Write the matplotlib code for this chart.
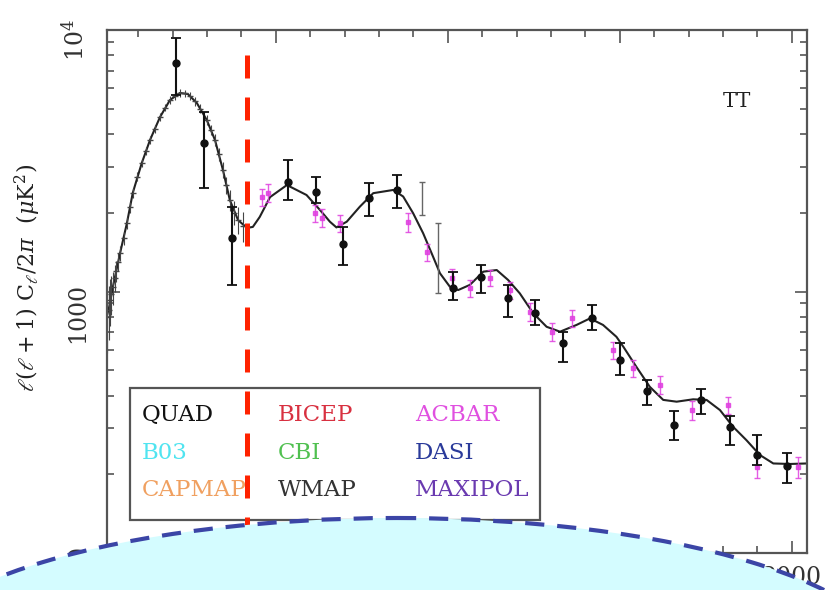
import matplotlib
matplotlib.use("Agg")
import matplotlib.pyplot as plt
from matplotlib.patches import Ellipse, Rectangle
from matplotlib.ticker import MultipleLocator, LogLocator, FixedLocator, FixedFormatter, NullFormatter

plt.rcParams['font.family'] = ['DejaVu Serif']
plt.rcParams['mathtext.fontset'] = 'dejavuserif'

# theory curve (ell, l(l+1)C_l/2pi in uK^2)
theory_ell = [9, 16, 26, 47, 67, 84, 110, 134, 163, 192, 221, 244, 270, 299, 323, 346, 366, 390,
              416, 433, 453, 483, 532, 589, 628, 657, 676, 706, 744, 783, 841, 870, 899, 928, 957,
              977, 1006, 1030, 1064, 1103, 1142, 1175, 1209, 1248, 1287, 1326, 1374, 1413, 1451,
              1490, 1510, 1548, 1587, 1626, 1665, 1713, 1752, 1791, 1829, 1868, 1907, 1946, 1994, 2044]
theory_val = [810, 880, 1040, 1402, 1828, 2385, 3097, 3794, 4642, 5397, 5743, 5690, 5262, 4528,
              3794, 2918, 2240, 1875, 1750, 1766, 1928, 2296, 2553, 2339, 2051, 1849, 1758, 1849,
              2110, 2377, 2445, 2308, 1992, 1671, 1358, 1174, 1042, 1013, 1060, 1191, 1208, 1107,
              984, 826, 733, 702, 745, 789, 745, 671, 615, 515, 432, 385, 379, 387, 385, 352, 304,
              270, 237, 220, 219, 220]

# QUAD band powers (value, upper and lower end of error bar)
quad_ell = [211, 291, 371, 534, 616, 694, 771, 851, 1015, 1095, 1175, 1253, 1335, 1418, 1500,
            1580, 1658, 1737, 1820, 1900, 1985]
quad_val = [7460, 3690, 1596, 2630, 2410, 1514, 2270, 2445, 1029, 1140, 942, 826, 634, 789, 547,
            418, 308, 385, 304, 237, 215]
quad_hi = [9290, 4870, 2110, 3185, 2750, 1770, 2595, 2790, 1190, 1262, 1060, 927, 702, 887, 634,
           459, 350, 423, 334, 282, 241]
quad_lo = [5640, 2480, 1060, 2240, 2180, 1262, 1945, 2085, 927, 984, 802, 745, 538, 713, 480,
           368, 270, 341, 259, 217, 185]

# ACBAR
acbar_ell = [459, 477, 613, 634, 686, 884, 939, 1012, 1064, 1122, 1180, 1238, 1302, 1360, 1480,
             1538, 1616, 1709, 1814, 1898, 2017]
acbar_val = [2296, 2385, 1995, 1910, 1828, 1845, 1416, 1128, 1030, 1128, 1013, 836, 700, 792, 597,
             509, 439, 352, 368, 213, 213]
acbar_err = [180, 190, 150, 150, 140, 150, 110, 90, 80, 80, 75, 65, 55, 60, 45, 40, 35, 30, 28, 20, 20]

# WMAP
wmap_ell = [10, 14, 18, 22, 26, 31, 35, 41, 47, 57, 67, 76, 84, 97, 110, 122, 134, 148, 163, 178,
            192, 206, 221, 235, 250, 265, 280, 299, 312, 323, 335, 346, 356, 366, 378, 390, 405]
wmap_val = [800, 850, 930, 980, 1040, 1130, 1200, 1300, 1400, 1600, 1830, 2100, 2385, 2750, 3100,
            3450, 3790, 4200, 4640, 5050, 5400, 5600, 5740, 5720, 5600, 5330, 5000, 4530, 4150,
            3800, 3350, 2920, 2550, 2240, 2000, 1880, 1780]
wmap_err = [220, 200, 190, 170, 150, 130, 110, 100, 95, 90, 95, 100, 105, 110, 120, 130, 140, 150,
            160, 170, 180, 190, 190, 200, 200, 200, 200, 200, 200, 200, 200, 200, 200, 200, 210,
            220, 240]

# two grey bars without marker
extra_ell = [924, 971]
extra_hi = [2623, 1828]
extra_lo = [1964, 986]

legend_names = [['QUAD', 'BICEP', 'ACBAR'],
                ['B03', 'CBI', 'DASI'],
                ['CAPMAP', 'WMAP', 'MAXIPOL']]
legend_colors = [['#111111', '#d83040', '#e050e0'],
                 ['#50e4f0', '#50c050', '#2a3a9a'],
                 ['#f0a060', '#333333', '#6a3ab0']]

cut_ell = 415

W, H = 825, 590
fig = plt.figure(figsize=(W / 100, H / 100), dpi=100)
ax = fig.add_axes([107 / W, 1 - 553 / H, 700 / W, 523 / H])


def px(x, y):
    return x / W, 1 - y / H


ax.plot(theory_ell, theory_val, color='#222222', lw=1.5, zorder=2)

ax.errorbar(wmap_ell, wmap_val, yerr=wmap_err, fmt='_', color='#444444', ms=5, mew=1,
            elinewidth=0.8, capsize=0, zorder=2.2)
ax.vlines(extra_ell, extra_lo, extra_hi, color='#666666', lw=1, zorder=2.2)
ax.plot(extra_ell, extra_hi, '_', color='#666666', ms=4, zorder=2.2)
ax.plot(extra_ell, extra_lo, '_', color='#666666', ms=4, zorder=2.2)
ax.errorbar(acbar_ell, acbar_val, yerr=acbar_err, fmt='s', color='#e040e0', ms=3,
            elinewidth=1, capsize=2, zorder=2.5, alpha=0.85)
ax.errorbar(quad_ell, quad_val,
            yerr=[[v - l for v, l in zip(quad_val, quad_lo)], [h - v for v, h in zip(quad_val, quad_hi)]],
            fmt='o', color='#111111', ms=5, elinewidth=1.5, capsize=3.5, capthick=1.3, zorder=3)

ax.set_xlim(9, 2044)
ax.set_yscale('log')
ax.set_ylim(100, 1e4)

ax.xaxis.set_major_locator(MultipleLocator(500))
ax.xaxis.set_minor_locator(MultipleLocator(100))
ax.yaxis.set_major_locator(FixedLocator([100, 1000, 10000]))
ax.yaxis.set_major_formatter(FixedFormatter(['100', '1000', r'$10^4$']))
ax.yaxis.set_minor_locator(LogLocator(base=10, subs=range(2, 10)))
ax.yaxis.set_minor_formatter(NullFormatter())

ax.tick_params(which='both', direction='in', top=True, right=True, colors='#555555',
               labelcolor='#333333', labelsize=17, width=1.2)
ax.tick_params(which='major', length=9)
ax.tick_params(which='minor', length=5)
ax.tick_params(axis='y', labelrotation=90, pad=13)
ax.tick_params(axis='x', pad=9)
for s in ax.spines.values():
    s.set_color('#555555')
    s.set_linewidth(1.6)

ax.set_ylabel(r'$\ell(\ell+1)\ \mathrm{C}_\ell/2\pi\ \ (\mu\mathrm{K}^2)$', fontsize=16, color='#222222')
ax.yaxis.set_label_coords(-0.0914, 0.526)

fig.text(*px(737, 102), 'TT', ha='center', va='center', fontsize=15, color='#222222')

# legend: coloured names inside a box
ax.add_patch(Rectangle(px(130, 520), 410 / W, 132 / H, transform=fig.transFigure,
                       facecolor='white', edgecolor='#555555', lw=1.6, zorder=4, clip_on=False))
col_x = [142, 278, 415]
row_y = [415, 453, 490]
for r in range(3):
    for c in range(3):
        fig.text(*px(col_x[c], row_y[r]), legend_names[r][c], color=legend_colors[r][c],
                 fontsize=16.5, ha='left', va='center', zorder=5)

# red dashed cut line
ax.plot([cut_ell, cut_ell], [8020, 100], color='#ff2200', lw=3.6, ls=(0, (4.6, 3.8)),
        zorder=6, clip_on=False)

# light dome covering the bottom
ov = fig.add_axes([0, 0, 1, 1])
ov.set_xlim(0, W)
ov.set_ylim(H, 0)
ov.axis('off')
ov.add_patch(Ellipse((397, 668), 1000, 300, facecolor='#d4fcff', edgecolor='#3b45a6', lw=3,
                     ls=(0, (4.6, 3.1))))

fig.savefig('out.png', dpi=100)
